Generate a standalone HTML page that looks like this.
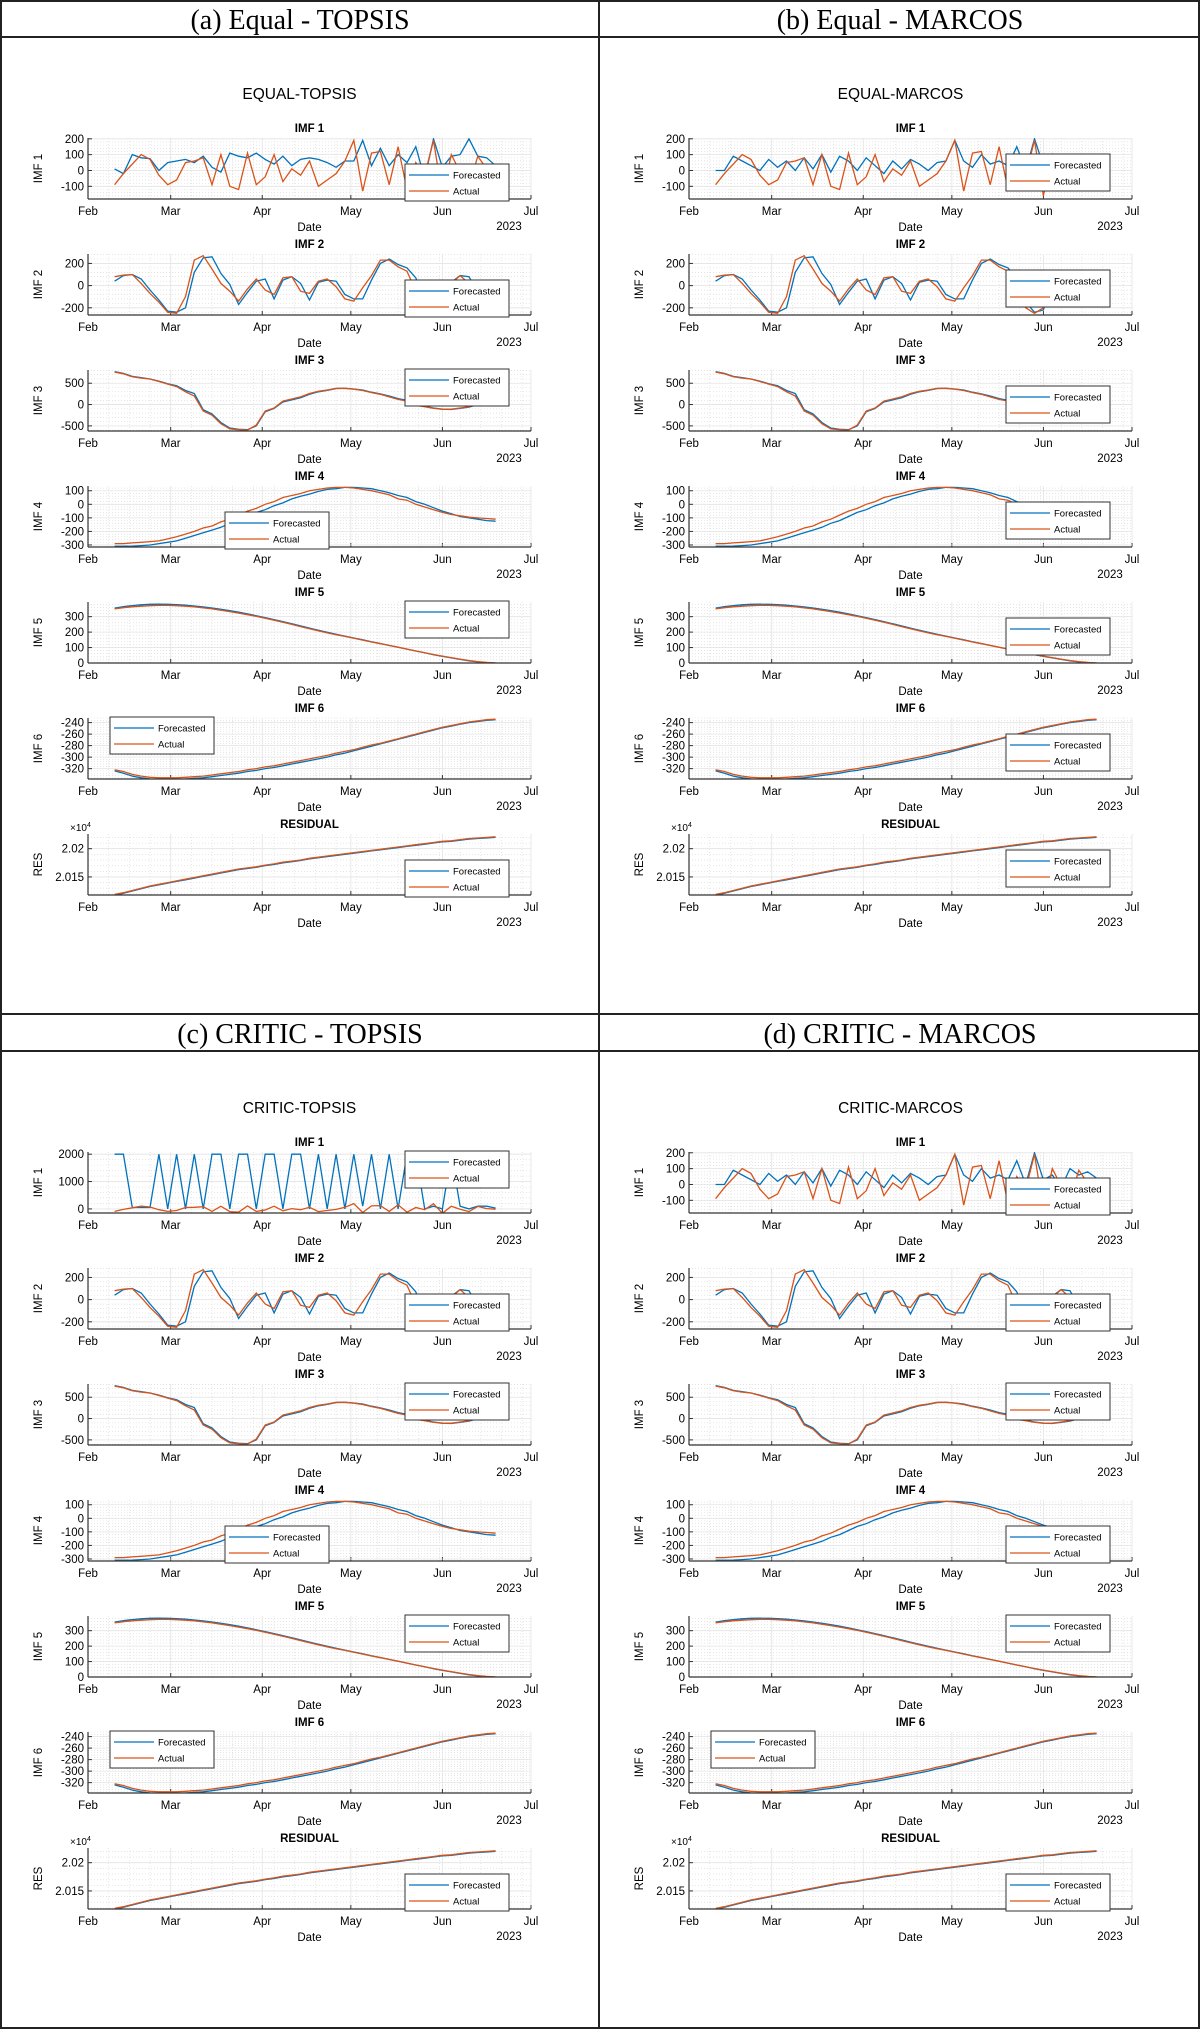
<!DOCTYPE html>
<html><head><meta charset="utf-8"><style>
html,body{margin:0;padding:0;background:#fff}
svg{display:block}
text{font-family:"Liberation Sans",Arial,sans-serif}
.hdr{font-family:"Liberation Serif","Times New Roman",serif;font-size:28px}
</style></head><body>
<svg id="root" width="1200" height="2029" viewBox="0 0 1200 2029" xmlns="http://www.w3.org/2000/svg">
<rect x="1" y="1" width="1198" height="2027" fill="none" stroke="#222" stroke-width="2"/>
<line x1="599" y1="0" x2="599" y2="2029" stroke="#222" stroke-width="2"/>
<line x1="0" y1="37" x2="1200" y2="37" stroke="#222" stroke-width="2"/>
<line x1="0" y1="1014" x2="1200" y2="1014" stroke="#222" stroke-width="2"/>
<line x1="0" y1="1051" x2="1200" y2="1051" stroke="#222" stroke-width="2"/>
<text class="hdr" x="300" y="29" text-anchor="middle">(a) Equal - TOPSIS</text>
<text class="hdr" x="900" y="29" text-anchor="middle">(b) Equal - MARCOS</text>
<text class="hdr" x="300" y="1043" text-anchor="middle">(c) CRITIC - TOPSIS</text>
<text class="hdr" x="900" y="1043" text-anchor="middle">(d) CRITIC - MARCOS</text>
<g id="plots"></g>
</svg>
<script>
const days = [9,12,15,18,21,24,27,30,33,36,39,42,45,48,51,54,57,60,63,66,69,72,75,78,81,84,87,90,93,96,99,102,105,108,111,114,117,120,123,126,129,132,135,138];
const monthTicks = [0,28,59,89,120,150];
const monthLabels = ["Feb","Mar","Apr","May","Jun","Jul"];
const act1 = [-90,-20,40,100,70,-30,-90,-60,50,60,80,-90,100,-100,-120,110,-90,-40,100,-70,10,-30,60,-100,-60,-20,60,190,-130,110,120,-90,150,-120,50,-30,190,-160,100,-10,-100,90,10,-10];
const fc1a = [10,-20,100,80,75,0,50,60,70,50,90,20,-10,110,90,80,110,70,40,90,30,70,80,70,50,20,60,60,190,30,140,30,100,50,150,-50,200,20,90,100,200,90,80,30];
const fc1b = [0,0,90,60,30,0,70,20,60,0,80,10,100,-10,90,60,0,80,30,-20,60,10,70,40,0,50,60,190,60,20,100,40,60,30,150,0,200,30,60,-20,100,60,80,40];
const fc1c = [2000,2000,50,50,50,2000,0,2000,0,2000,0,2000,2000,0,2000,2000,0,2000,2000,0,2000,2000,0,2000,0,2000,0,2000,100,2000,0,2000,0,2000,2000,0,100,0,2000,100,0,100,100,30];
const act2 = [80,95,100,20,-70,-150,-240,-250,-100,230,270,150,20,-50,-140,-30,60,-40,-80,70,80,-50,-70,40,60,-10,-120,-140,-20,90,230,230,170,130,-50,-200,-250,-200,20,90,20,-100,-20,30];
const fc2 = [40,90,100,60,-40,-130,-230,-240,-200,120,250,260,110,10,-170,-60,40,60,-120,50,80,20,-130,30,50,40,-80,-120,-120,50,200,240,190,160,70,-150,-240,-220,30,90,80,-60,-50,20];
const act3 = [760,720,650,620,600,540,480,420,300,200,-150,-250,-450,-570,-590,-600,-480,-150,-80,80,130,180,260,310,340,380,380,360,330,280,240,180,120,80,-20,-50,-90,-110,-110,-80,-50,20,40,60];
const fc3 = [770,730,660,630,600,550,490,440,330,260,-120,-220,-420,-550,-580,-590,-500,-170,-90,60,110,160,240,300,335,375,380,365,340,290,250,200,140,100,10,-40,-80,-110,-115,-90,-60,0,30,50];
const act4 = [-290,-290,-285,-280,-275,-270,-255,-240,-220,-200,-175,-160,-130,-110,-80,-50,-30,0,20,50,65,80,100,110,120,125,125,120,110,100,85,70,40,30,0,-20,-40,-60,-75,-85,-95,-100,-105,-110];
const fc4 = [-310,-310,-308,-305,-300,-290,-280,-270,-250,-230,-210,-190,-170,-140,-120,-90,-60,-40,-10,10,40,60,75,95,110,115,125,125,120,115,100,85,65,50,20,0,-25,-50,-70,-90,-100,-110,-120,-125];
const act5 = [350,358,364,368,371,373,373,371,368,363,357,350,342,333,323,313,302,290,277,264,250,236,222,208,195,183,172,160,148,136,125,113,102,90,78,66,55,45,35,25,16,9,4,0];
const fc5 = [355,365,372,377,380,381,380,378,374,369,363,356,348,339,329,318,306,294,281,268,254,240,226,212,199,186,174,162,150,138,126,114,102,90,78,66,54,43,33,23,14,7,2,0];
const act6 = [-322,-325,-330,-333,-335,-336,-336,-336,-335,-334,-333,-331,-329,-327,-325,-322,-320,-317,-315,-312,-309,-306,-303,-300,-297,-293,-290,-287,-283,-279,-276,-272,-268,-264,-260,-256,-252,-248,-245,-242,-239,-237,-235,-234];
const fc6 = [-324,-328,-333,-336,-338,-339,-339,-339,-338,-337,-336,-334,-332,-330,-328,-325,-323,-320,-318,-315,-312,-309,-306,-303,-300,-296,-293,-289,-285,-281,-277,-273,-269,-265,-261,-257,-253,-249,-246,-243,-240,-238,-236,-235];
const actR = [20119,20122,20126,20130,20134,20137,20140,20143,20146,20149,20152,20155,20158,20161,20164,20166,20168,20171,20173,20176,20178,20180,20183,20185,20187,20189,20191,20193,20195,20197,20199,20201,20203,20205,20207,20209,20211,20213,20214,20216,20218,20219,20220,20221];
const fcR = [20117,20121,20125,20129,20133,20136,20139,20142,20145,20148,20151,20154,20157,20160,20163,20165,20167,20170,20172,20175,20177,20179,20182,20184,20186,20188,20190,20192,20194,20196,20198,20200,20202,20204,20206,20208,20210,20212,20213,20215,20217,20218,20219,20220];
const ticks1 = [-100,0,100,200];
const ticks1c = [0,1000,2000];
const ticks2 = [-200,0,200];
const ticks3 = [-500,0,500];
const ticks4 = [-300,-200,-100,0,100];
const ticks5 = [0,100,200,300];
const ticks6 = [-320,-300,-280,-260,-240];
const ticksR = [20150,20200];
const ticksRLabels = ["2.015","2.02"];

const NS = "http://www.w3.org/2000/svg";
const root = document.getElementById("plots");
function mk(tag, attrs, parent){
  const e = document.createElementNS(NS, tag);
  for (const k in attrs) e.setAttribute(k, attrs[k]);
  (parent||root).appendChild(e);
  return e;
}

const sections = [
  {x:88, w:443, y:0, title:"EQUAL-TOPSIS", fc1:fc1a, t1:ticks1, y1:[-180,205], leg:["br","br","tr","bm","tr","tl","br"]},
  {x:689, w:443, y:0, title:"EQUAL-MARCOS", fc1:fc1b, t1:ticks1, y1:[-180,205], leg:["mr","mr","mr","mr","mr","mr","mr"]},
  {x:88, w:443, y:1014, title:"CRITIC-TOPSIS", fc1:fc1c, t1:ticks1c, y1:[-150,2080], leg:["tr","br","tr","bm","tr","tl","br"]},
  {x:689, w:443, y:1014, title:"CRITIC-MARCOS", fc1:fc1b, t1:ticks1, y1:[-180,205], leg:["br","br","tr","br","tr","tl","br"]}
];

sections.forEach((s, si) => {
  const g = mk("g", {});
  
  
  const tt = mk("text", {x: s.x + s.w/2 - 10, y: s.y + 99, "text-anchor":"middle", "font-size":"15.5"}, g);
  tt.textContent = s.title;
  
  
  const panels = [
    {name:"IMF 1", title:"IMF 1", a:act1, f:s.fc1, ticks:s.t1, yl:s.y1},
    {name:"IMF 2", title:"IMF 2", a:act2, f:fc2, ticks:ticks2, yl:[-265,285]},
    {name:"IMF 3", title:"IMF 3", a:act3, f:fc3, ticks:ticks3, yl:[-620,810]},
    {name:"IMF 4", title:"IMF 4", a:act4, f:fc4, ticks:ticks4, yl:[-315,135]},
    {name:"IMF 5", title:"IMF 5", a:act5, f:fc5, ticks:ticks5, yl:[0,395]},
    {name:"IMF 6", title:"IMF 6", a:act6, f:fc6, ticks:ticks6, yl:[-338,-232]},
    {name:"RES", title:"RESIDUAL", a:actR, f:fcR, ticks:ticksR, labels:ticksRLabels, yl:[20118,20226]}
  ];
  panels.forEach((p, k) => {
    const top = s.y + 138 + 116*k, h = 61, L = s.x, W = s.w;
    const pg = mk("g", {}, g);
    
    
    const X = d => L + d/150*W;
    const Y = v => top + h - (v - p.yl[0])/(p.yl[1]-p.yl[0])*h;
    mk("rect", {x:L, y:top, width:W, height:h, fill:"#fff"}, pg);
    for (let d = 0; d <= 150; d += 7) {
      mk("line", {x1:X(d), x2:X(d), y1:top, y2:top+h, stroke:"#d8d8d8", "stroke-width":"0.6", "stroke-dasharray":"1,2"}, pg);
    }
    const step = (p.ticks[1]-p.ticks[0])/5;
    for (let v = p.ticks[0] - 10*step; v <= p.yl[1]; v += step) {
      if (v < p.yl[0]) continue;
      mk("line", {x1:L, x2:L+W, y1:Y(v), y2:Y(v), stroke:"#d8d8d8", "stroke-width":"0.6", "stroke-dasharray":"1,2"}, pg);
    }
    monthTicks.forEach((d, i) => {
      mk("line", {x1:X(d), x2:X(d), y1:top, y2:top+h, stroke:"#e4e4e4", "stroke-width":"0.8"}, pg);
      mk("line", {x1:X(d), x2:X(d), y1:top+h, y2:top+h-4, stroke:"#333", "stroke-width":"1"}, pg);
      const t = mk("text", {x:X(d), y:top+h+16, "text-anchor":"middle", "font-size":"11.5"}, pg);
      t.textContent = monthLabels[i];
      
      
    });
    p.ticks.forEach((v, i) => {
      mk("line", {x1:L, x2:L+W, y1:Y(v), y2:Y(v), stroke:"#e4e4e4", "stroke-width":"0.8"}, pg);
      mk("line", {x1:L, x2:L+4, y1:Y(v), y2:Y(v), stroke:"#333", "stroke-width":"1"}, pg);
      const t = mk("text", {x:L-4, y:Y(v)+4, "text-anchor":"end", "font-size":"11.5"}, pg);
      t.textContent = p.labels ? p.labels[i] : String(v);
      
      
    });
    const clipId = "c" + si + "_" + k;
    const cp = mk("clipPath", {id:clipId}, pg);
    mk("rect", {x:L, y:top, width:W, height:h}, cp);
    const path = arr => arr.map((v,i) => (i?"L":"M") + X(days[i]).toFixed(1) + "," + Y(v).toFixed(1)).join(" ");
    const fl = mk("path", {d:path(p.f), fill:"none", stroke:"#0072BD", "stroke-width":"1.3", "clip-path":"url(#"+clipId+")"}, pg);
    
    
    const al = mk("path", {d:path(p.a), fill:"none", stroke:"#D95319", "stroke-width":"1.3", "clip-path":"url(#"+clipId+")"}, pg);
    
    
    mk("line", {x1:L, x2:L+W, y1:top+h, y2:top+h, stroke:"#333", "stroke-width":"1.2"}, pg);
    mk("line", {x1:L, x2:L, y1:top, y2:top+h, stroke:"#333", "stroke-width":"1.2"}, pg);
    const pt = mk("text", {x:L+W/2, y:top-6, "text-anchor":"middle", "font-size":"11.5", "font-weight":"bold"}, pg);
    pt.textContent = p.title;
    
    
    const yl = mk("text", {x:0, y:0, "text-anchor":"middle", "font-size":"11.5", transform:"translate("+(L-46)+","+(top+h/2)+") rotate(-90)"}, pg);
    yl.textContent = p.name;
    
    
    const dl = mk("text", {x:L+W/2, y:top+h+32, "text-anchor":"middle", "font-size":"11.5"}, pg);
    dl.textContent = "Date";
    
    
    const yr = mk("text", {x:L+W-22, y:top+h+31, "text-anchor":"middle", "font-size":"11.5"}, pg);
    yr.textContent = "2023";
    
    
    if (p.name === "RES") {
      const ex = mk("text", {x:L-18, y:top-3, "font-size":"10"}, pg);
      ex.innerHTML = '×10<tspan dy="-4" font-size="7">4</tspan>';
      
      
    }
    const lw = 104, lh = 37, pos = s.leg[k];
    let lx = L + W - 22 - lw, ly = top + h + 2 - lh;
    if (pos === "tr") ly = top - 1;
    if (pos === "mr") ly = top + (h - lh)/2 + 4;
    if (pos === "bm") { lx = L + 137; }
    if (pos === "tl") { lx = L + 22; ly = top - 1; }
    const lg = mk("g", {}, pg);
    
    
    mk("rect", {x:lx, y:ly, width:lw, height:lh, fill:"#fff", stroke:"#333", "stroke-width":"1"}, lg);
    mk("line", {x1:lx+4, x2:lx+44, y1:ly+11, y2:ly+11, stroke:"#0072BD", "stroke-width":"1.3"}, lg);
    mk("line", {x1:lx+4, x2:lx+44, y1:ly+27, y2:ly+27, stroke:"#D95319", "stroke-width":"1.3"}, lg);
    const e1 = mk("text", {x:lx+48, y:ly+14.5, "font-size":"9.5"}, lg);
    e1.textContent = "Forecasted";
    
    
    const e2 = mk("text", {x:lx+48, y:ly+30.5, "font-size":"9.5"}, lg);
    e2.textContent = "Actual";
    
    
  });
});
</script>
</body></html>
